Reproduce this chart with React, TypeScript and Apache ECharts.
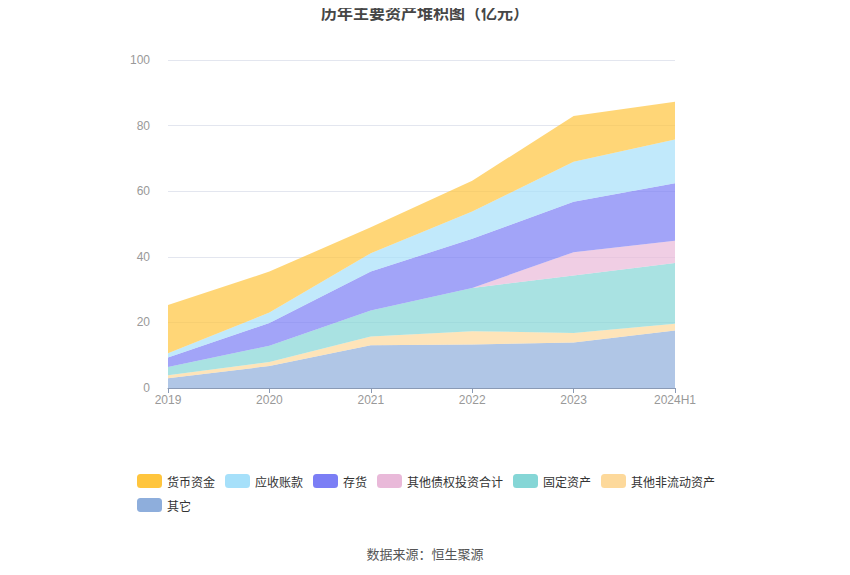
import React, { useEffect, useRef } from "react";
import * as echarts from "echarts";

const categories = ["2019", "2020", "2021", "2022", "2023", "2024H1"];
const seriesNames = ["货币资金", "应收账款", "存货", "其他债权投资合计", "固定资产", "其他非流动资产", "其它"];
const colors = ["#ffc53d", "#a6e0fa", "#7b7ef5", "#e9b9d9", "#85d6d6", "#fdd99b", "#8eaedc"];

const cash = [14.7, 12.5, 7.9, 9.4, 13.9, 11.5];
const receivables = [1.3, 3.2, 5.6, 8.3, 12.2, 13.4];
const inventory = [2.9, 6.9, 11.9, 15.0, 15.4, 17.5];
const otherDebtInv = [0, 0, 0, 0, 7.1, 6.8];
const fixedAssets = [2.5, 5.0, 7.9, 13.2, 17.5, 18.5];
const otherNonCurrent = [0.9, 1.2, 2.7, 4.0, 2.9, 2.1];
const others = [3.0, 6.7, 13.0, 13.3, 13.9, 17.5];

const valuesByName: Record<string, number[]> = {
  "货币资金": cash,
  "应收账款": receivables,
  "存货": inventory,
  "其他债权投资合计": otherDebtInv,
  "固定资产": fixedAssets,
  "其他非流动资产": otherNonCurrent,
  "其它": others,
};

export default function App() {
  const ref = useRef<HTMLDivElement>(null);
  useEffect(() => {
    if (!ref.current) return;
    const chart = echarts.init(ref.current, null, { renderer: "svg" });
    const stackOrder = [...seriesNames].reverse();
    const series = stackOrder.map((name) => {
      const idx = seriesNames.indexOf(name);
      return {
        name,
        type: "line",
        stack: "total",
        data: valuesByName[name],
        symbol: "none",
        showSymbol: false,
        lineStyle: { width: 0 },
        itemStyle: { color: colors[idx] },
        areaStyle: { color: colors[idx], opacity: 0.7 },
      };
    });
    chart.setOption({
      animation: false,
      title: {
        text: "历年主要资产堆积图（亿元）",
        left: "center",
        top: 4,
        padding: 0,
        textStyle: { fontSize: 16, fontWeight: "bold", color: "#464646", fontFamily: "Noto Sans CJK SC" },
      },
      legend: {
        data: seriesNames,
        icon: "roundRect",
        left: 132,
        top: 469,
        width: 600,
        itemWidth: 25,
        itemHeight: 14,
        itemGap: 10,
        textStyle: { fontSize: 12, color: "#333", fontFamily: "Noto Sans CJK SC" },
      },
      graphic: [
        {
          type: "text",
          left: "center",
          top: 547,
          style: { text: "数据来源：恒生聚源", fontSize: 13, fill: "#555", fontFamily: "Noto Sans CJK SC" },
        },
      ],
      grid: { left: 168, right: 175, top: 60, bottom: 187 },
      xAxis: {
        type: "category",
        boundaryGap: false,
        data: categories,
        axisLine: { lineStyle: { color: "#8a9ab5" } },
        axisTick: { show: true, alignWithLabel: true, lineStyle: { color: "#8a9ab5" } },
        axisLabel: { color: "#999", fontSize: 12, margin: 6 },
      },
      yAxis: {
        type: "value",
        min: 0,
        max: 100,
        interval: 20,
        axisLine: { show: false },
        axisTick: { show: false },
        axisLabel: { color: "#999", fontSize: 12, margin: 18 },
        splitLine: { lineStyle: { color: "#e3e6ef" } },
      },
      series,
    });
    return () => chart.dispose();
  }, []);
  return <div ref={ref} style={{ width: 850, height: 575, margin: -8 }} />;
}
